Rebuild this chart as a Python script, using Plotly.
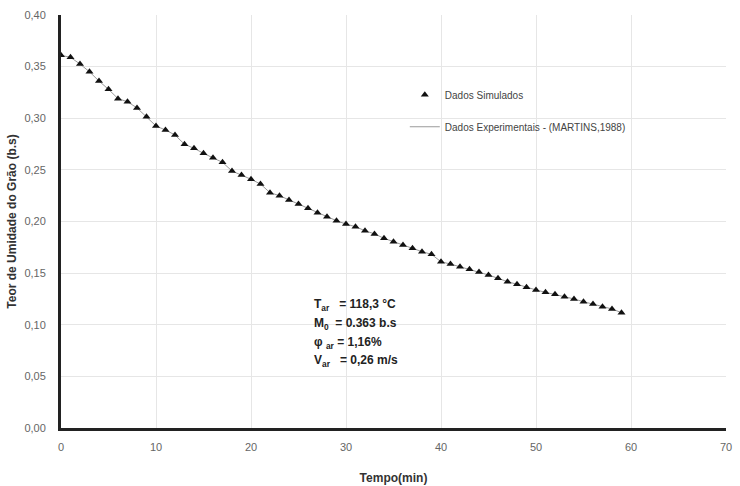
import plotly.graph_objects as go

tempo = list(range(0, 60))
teor = [0.361, 0.359, 0.3525, 0.345, 0.336, 0.328, 0.319, 0.316, 0.310, 0.3015,
        0.2925, 0.2886, 0.2838, 0.2748, 0.2709, 0.266, 0.2618, 0.2573, 0.2489, 0.245,
        0.2409, 0.2363, 0.2279, 0.225, 0.2208, 0.217, 0.2128, 0.2085, 0.2047, 0.2008,
        0.1975, 0.195, 0.191, 0.188, 0.1837, 0.1805, 0.1772, 0.174, 0.1708, 0.1682,
        0.161, 0.1588, 0.1562, 0.1537, 0.151, 0.1482, 0.145, 0.1417, 0.1392, 0.1363,
        0.1337, 0.1314, 0.1295, 0.1272, 0.125, 0.1223, 0.12, 0.1175, 0.1153, 0.1117]

x_ticks = [0, 10, 20, 30, 40, 50, 60, 70]
y_ticks = [0.0, 0.05, 0.10, 0.15, 0.20, 0.25, 0.30, 0.35, 0.40]
y_labels = ["0,00", "0,05", "0,10", "0,15", "0,20", "0,25", "0,30", "0,35", "0,40"]

params = ["T<sub>ar</sub>   = 118,3 °C", "M<sub>0</sub>  = 0.363 b.s",
          "φ <sub>ar</sub> = 1,16%", "V<sub>ar</sub>   = 0,26 m/s"]
param_y = [0.119, 0.1007, 0.0823, 0.0649]

fig = go.Figure()
fig.add_trace(go.Scatter(x=tempo, y=teor, mode="lines", name="Dados Experimentais - (MARTINS,1988)",
                         legendgroup="exp", legendrank=2, line=dict(color="#9a9a9a", width=1)))
fig.add_trace(go.Scatter(x=tempo, y=teor, mode="markers", name="Dados Simulados",
                         legendgroup="sim", legendrank=1,
                         marker=dict(symbol="triangle-up", size=7, color="#111111")))

for txt, yy in zip(params, param_y):
    fig.add_annotation(x=26.4, y=yy, xref="x", yref="y", xanchor="left", yanchor="middle",
                       text="<b>" + txt + "</b>", showarrow=False, align="left",
                       font=dict(family="Liberation Sans", size=12, color="#222222"))

fig.update_layout(
    width=740, height=486,
    margin=dict(l=61, r=14, t=15, b=58),
    paper_bgcolor="white", plot_bgcolor="white",
    font=dict(family="Liberation Sans", color="#666666", size=11),
    legend=dict(x=0.517, y=0.842, xanchor="left", yanchor="top", traceorder="grouped",
                bgcolor="rgba(0,0,0,0)", font=dict(size=10, color="#444444"),
                itemwidth=30, tracegroupgap=13),
    xaxis=dict(range=[0, 70], tickvals=x_ticks, showgrid=True, gridcolor="#e6e6e6",
               zeroline=False, showline=True, linecolor="#222222", linewidth=3,
               ticks="", ticklabelstandoff=7, automargin=False,
               title=dict(text="<b>Tempo(min)</b>", font=dict(size=12, color="#333333"), standoff=22)),
    yaxis=dict(range=[0, 0.40], tickvals=y_ticks, ticktext=y_labels, showgrid=True,
               gridcolor="#e6e6e6", zeroline=False, showline=True, linecolor="#222222",
               linewidth=3, ticks="", ticklabelstandoff=10, automargin=False,
               title=dict(text="<b>Teor de Umidade do Grão (b.s)</b>", font=dict(size=12, color="#333333"), standoff=6)),
)

fig.write_html("out.html")
